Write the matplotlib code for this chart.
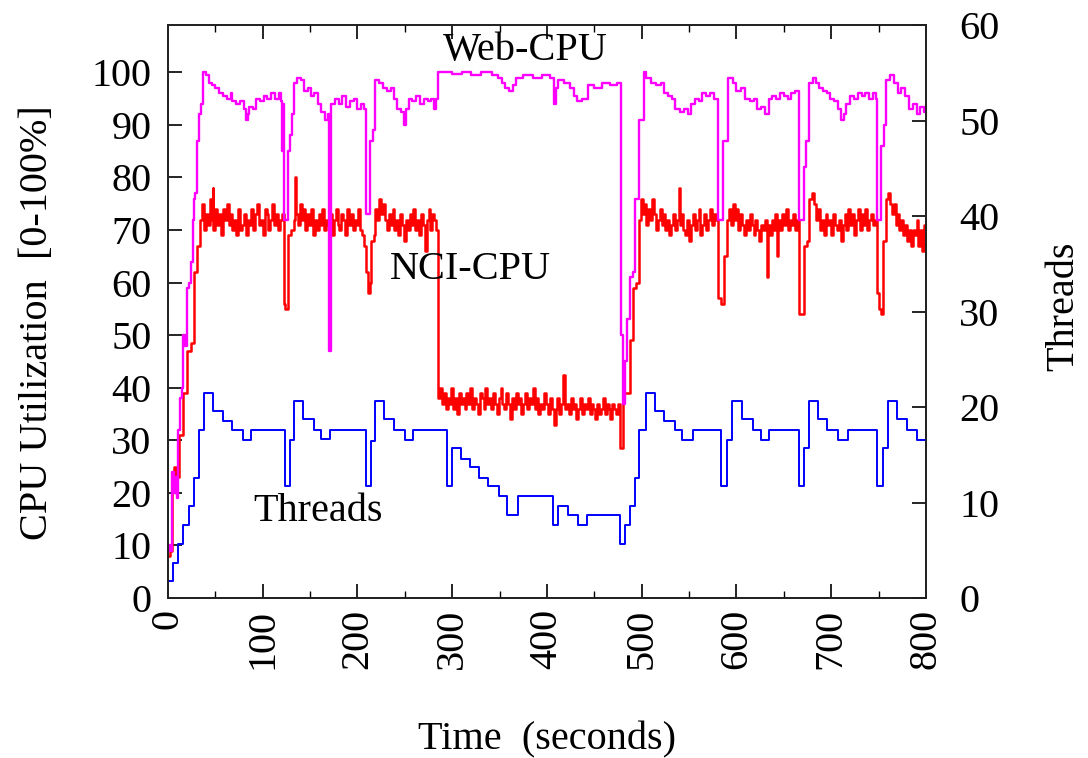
import matplotlib
matplotlib.use("Agg")
import matplotlib.pyplot as plt
from matplotlib.ticker import MultipleLocator

# (time in seconds, CPU utilisation %), drawn as steps
web_cpu = [
    (0, 10), (2, 9), (4, 24), (6, 20), (8, 23), (10, 19), (11, 32), (13, 38), (15, 40),
    (16, 50), (18, 48), (20, 59), (22, 60), (24, 64), (26, 72), (27, 76), (29, 77),
    (31, 87), (33, 92), (35, 94), (37, 100), (40, 99.5), (43, 98), (46, 97.5), (50, 97),
    (54, 96), (58, 95.5), (62, 95), (66, 96), (68, 94.5), (72, 94), (76, 94.5), (80, 93),
    (82, 91), (84, 92), (86, 93.5), (90, 93), (93, 95), (97, 94.5), (101, 95.5), (105, 95),
    (109, 96), (113, 95), (117, 96), (119, 94.5), (120, 85), (121, 94), (122, 72),
    (127, 85), (129, 88), (131, 92), (133, 98), (136, 99), (140, 98.5), (144, 96.5),
    (148, 97), (151, 95.5), (154, 96), (158, 94), (162, 92.5), (166, 91), (169, 92),
    (170, 47), (172, 94), (176, 95), (180, 94), (184, 95.5), (188, 93.5), (192, 94.5),
    (196, 95), (200, 93), (204, 94), (207, 93), (209, 73), (213, 87), (216, 89),
    (219, 98.5), (223, 98), (227, 97), (231, 96.5), (235, 97), (239, 95), (242, 93),
    (246, 92.5), (249, 90), (251, 93), (254, 95), (258, 94.5), (262, 95.5), (266, 94),
    (270, 95), (274, 94.5), (278, 95), (281, 93), (283, 95), (285, 100), (300, 99.7),
    (310, 100), (320, 99.5), (330, 100), (342, 99.5), (348, 99), (353, 98), (356, 97),
    (360, 96.5), (364, 97.5), (367, 99), (375, 99.5), (385, 99), (395, 99.5), (403, 99),
    (407, 94), (410, 97), (412, 98.5), (418, 98), (424, 97), (428, 95.5), (432, 94.5),
    (437, 95), (443, 97.5), (450, 97), (458, 98), (466, 97.5), (474, 98), (478, 50),
    (480, 37), (482, 45), (484, 53), (488, 61), (491, 62), (493, 76), (497, 91),
    (502, 100), (505, 99), (510, 98), (515, 97.5), (520, 98), (524, 96), (528, 95.5),
    (532, 95), (535, 93), (540, 92.5), (545, 93), (549, 92), (552, 94), (556, 95),
    (560, 94.5), (564, 96), (568, 95.5), (572, 96), (576, 95), (580, 72), (586, 87),
    (591, 99), (596, 98), (600, 96.5), (605, 97), (609, 95), (614, 94.5), (618, 95),
    (622, 93), (626, 93.5), (630, 92), (634, 95), (638, 95.5), (642, 95), (646, 96),
    (650, 95.5), (654, 95), (658, 96), (662, 96.5), (666, 72), (671, 82), (673, 87),
    (677, 98), (681, 99), (684, 98), (687, 97), (691, 96.5), (695, 96), (699, 95),
    (703, 94.5), (707, 93), (710, 91), (713, 92), (716, 94), (720, 95.5), (724, 95),
    (728, 96), (732, 95.5), (736, 96), (740, 95), (744, 96), (747, 95), (748, 72),
    (753, 86), (756, 90), (758, 98.5), (762, 99.5), (766, 98), (770, 96), (774, 97),
    (778, 95.5), (782, 93), (786, 94), (790, 92), (794, 93.5), (798, 92.5), (800, 93),
]

nci_cpu = [
    (0, 8), (2, 9), (4, 22), (6, 25), (8, 20), (10, 23), (12, 31), (16, 39), (20, 47),
    (24, 48.5), (27, 62), (31, 67), (34, 72), (36, 75), (38, 70), (40, 73), (42, 71),
    (44, 76), (46, 72), (47, 78), (48, 70), (50, 74), (52, 71), (54, 73), (56, 69),
    (58, 74), (60, 72), (62, 75), (64, 71), (66, 73), (68, 70), (70, 72), (72, 69),
    (74, 74), (76, 70), (78, 71), (80, 73), (82, 69), (84, 72), (86, 71), (88, 74),
    (90, 70), (92, 73), (94, 75), (96, 71), (98, 72), (100, 69), (102, 74), (104, 73),
    (106, 70), (108, 72), (110, 75), (112, 71), (114, 73), (116, 70), (118, 72),
    (120, 73), (122, 56), (124, 55), (127, 69), (130, 70), (133, 72), (134, 80),
    (135, 73), (137, 71), (139, 75), (141, 72), (143, 74), (145, 70), (147, 73),
    (149, 71), (151, 74), (153, 69), (155, 72), (157, 70), (159, 73), (161, 71),
    (163, 74), (165, 70), (167, 72), (169, 71), (171, 73), (173, 69), (175, 72),
    (177, 74), (179, 71), (181, 70), (183, 73), (185, 72), (187, 69), (189, 74),
    (191, 71), (193, 73), (195, 70), (197, 72), (199, 71), (201, 74), (203, 70),
    (205, 69), (207, 67), (209, 62), (211, 58), (213, 60), (214, 68), (217, 69),
    (219, 74), (221, 72), (223, 76), (225, 73), (227, 75), (229, 72), (231, 70),
    (233, 73), (235, 71), (237, 74), (239, 70), (241, 72), (243, 69), (245, 73),
    (247, 71), (249, 68), (251, 72), (253, 70), (255, 73), (257, 71), (259, 74),
    (261, 70), (263, 72), (265, 69), (267, 73), (269, 71), (271, 66), (273, 72),
    (275, 74), (277, 70), (279, 73), (281, 72), (283, 70), (285, 38), (287, 40),
    (289, 37), (291, 39), (293, 36), (295, 38), (297, 37), (299, 40), (301, 36),
    (303, 38), (305, 35), (307, 39), (309, 37), (311, 38), (313, 36), (315, 39),
    (317, 37), (319, 40), (321, 36), (323, 38), (325, 37), (327, 35), (329, 39),
    (331, 38), (333, 36), (335, 40), (337, 37), (339, 38), (341, 36), (343, 39),
    (345, 37), (347, 35), (349, 38), (351, 40), (353, 37), (355, 36), (357, 39),
    (359, 37), (361, 34), (363, 38), (365, 36), (367, 39), (369, 37), (371, 38),
    (373, 35), (375, 37), (377, 39), (379, 36), (381, 38), (383, 37), (385, 40),
    (387, 36), (389, 38), (391, 35), (393, 37), (395, 36), (397, 39), (399, 37),
    (401, 35), (403, 38), (405, 36), (407, 33), (409, 36), (411, 38), (413, 35),
    (415, 37), (417, 42.5), (419, 36), (421, 37), (423, 35), (425, 38), (427, 36),
    (429, 37), (431, 34), (433, 36), (435, 38), (437, 35), (439, 37), (441, 36),
    (443, 38), (445, 35), (447, 37), (449, 36), (451, 34), (453, 37), (455, 35),
    (457, 36), (459, 38), (461, 35), (463, 37), (465, 36), (467, 34), (469, 37),
    (471, 36), (473, 35), (475, 37), (477, 28.5), (480, 39), (488, 49), (491, 59),
    (494, 60), (497, 72), (499, 76), (501, 73), (503, 75), (505, 71), (507, 74),
    (509, 72), (511, 76), (513, 73), (515, 70), (517, 72), (519, 74), (521, 71),
    (523, 73), (525, 70), (527, 72), (529, 69), (531, 71), (533, 73), (535, 70),
    (537, 72), (539, 78), (540, 71), (542, 73), (544, 70), (546, 69), (548, 72),
    (550, 68), (552, 71), (554, 73), (556, 70), (558, 72), (560, 74), (562, 69),
    (564, 71), (566, 73), (568, 70), (570, 72), (572, 74), (574, 71), (576, 73),
    (578, 72), (580, 57), (584, 56), (587, 65), (590, 72), (592, 74), (594, 71),
    (596, 75), (598, 72), (600, 74), (602, 70), (604, 73), (606, 71), (608, 69),
    (610, 72), (612, 70), (614, 73), (616, 71), (618, 69), (620, 72), (622, 70),
    (624, 68), (626, 71), (628, 70), (630, 72), (632, 61), (633, 71), (635, 69),
    (637, 72), (639, 70), (641, 73), (643, 65), (644, 72), (646, 70), (648, 73),
    (650, 71), (652, 74), (654, 70), (656, 72), (658, 71), (660, 73), (662, 70),
    (664, 72), (666, 54), (671, 67), (674, 68), (677, 76), (680, 77), (682, 75),
    (684, 72), (686, 74), (688, 70), (690, 72), (692, 69), (694, 73), (696, 71),
    (698, 72), (700, 69), (702, 73), (704, 71), (706, 70), (708, 72), (710, 68),
    (712, 71), (714, 73), (716, 70), (718, 74), (720, 71), (722, 73), (724, 69),
    (726, 72), (728, 74), (730, 70), (732, 73), (734, 71), (736, 74), (738, 70),
    (740, 72), (742, 73), (744, 71), (746, 72), (748, 58), (750, 55), (753, 54),
    (755, 68), (758, 76), (760, 77), (762, 75), (764, 73), (766, 75), (768, 71),
    (770, 73), (772, 70), (774, 72), (776, 69), (778, 71), (780, 68), (782, 70),
    (784, 67), (786, 70), (788, 69), (790, 72), (792, 67), (794, 70), (796, 66),
    (798, 71), (800, 74),
]

# (time in seconds, number of threads) on the right axis
threads = [
    (0, 1.8), (5, 3.7), (11, 5.7), (16, 7.7), (22, 9.6), (27, 12.6), (33, 17.6),
    (38, 21.5), (47, 19.6), (58, 18.5), (68, 17.6), (79, 16.5), (88, 17.6), (124, 11.7),
    (129, 16.5), (133, 20.6), (143, 18.7), (154, 17.6), (162, 16.7), (171, 17.6),
    (209, 11.7), (214, 16.4), (219, 20.6), (228, 18.7), (239, 17.6), (250, 16.5),
    (259, 17.6), (294, 11.7), (300, 15.7), (309, 14.6), (319, 13.7), (328, 12.6),
    (338, 11.7), (349, 10.7), (358, 8.7), (369, 10.7), (406, 7.7), (412, 9.6),
    (422, 8.7), (433, 7.7), (442, 8.7), (477, 5.7), (482, 7.7), (488, 9.6), (493, 12.6),
    (497, 17.6), (504, 21.5), (514, 19.6), (524, 18.5), (535, 17.6), (543, 16.5),
    (554, 17.6), (584, 11.7), (590, 16.5), (595, 20.6), (606, 18.7), (617, 17.6),
    (626, 16.5), (634, 17.6), (666, 11.7), (671, 15.7), (677, 20.6), (686, 18.7),
    (696, 17.6), (707, 16.5), (718, 17.6), (748, 11.7), (755, 15.7), (760, 20.6),
    (769, 18.7), (780, 17.6), (790, 16.5), (800, 16.5),
]

x_ticks = [0, 100, 200, 300, 400, 500, 600, 700, 800]
cpu_ticks = [0, 10, 20, 30, 40, 50, 60, 70, 80, 90, 100]
thread_ticks = [0, 10, 20, 30, 40, 50, 60]

plt.rcParams['font.family'] = ['Liberation Serif', 'DejaVu Serif']
plt.rcParams['font.size'] = 29

fig = plt.figure(figsize=(10.88, 7.58), dpi=100)
ax = fig.add_axes([0.1544, 0.211, 0.6967, 0.756])
ax2 = ax.twinx()

web_t, web_v = zip(*web_cpu)
nci_t, nci_v = zip(*nci_cpu)
thr_t, thr_v = zip(*threads)

ax.plot(web_t, web_v, drawstyle='steps-post', color='#ff00ff', linewidth=1.7, zorder=3)
ax.plot(nci_t, nci_v, drawstyle='steps-post', color='#ff0000', linewidth=1.8, zorder=2)
ax2.plot(thr_t, thr_v, drawstyle='steps-post', color='#0000ff', linewidth=1.4)

ax.set_xlim(0, 800)
ax.set_ylim(0, 109)
ax2.set_ylim(0, 60)

ax.set_xticks(x_ticks)
ax.xaxis.set_minor_locator(MultipleLocator(50))
ax.set_xticklabels([str(v) for v in x_ticks], rotation=90)
ax.set_yticks(cpu_ticks)
ax2.set_yticks(thread_ticks)

ax.tick_params(axis='x', which='both', direction='in', top=True, pad=8)
ax.tick_params(axis='x', which='major', length=10, width=1.2)
ax.tick_params(axis='x', which='minor', length=5, width=1.0)
ax.tick_params(axis='y', direction='in', length=10, width=1.2, right=False, pad=12)
ax2.tick_params(axis='y', direction='in', length=10, width=1.2, pad=24)

for a in (ax, ax2):
    for s in a.spines.values():
        s.set_linewidth(1.3)
        s.set_color('#222222')

ax.set_xlabel('Time  (seconds)')
ax.xaxis.set_label_coords(0.5, -0.215)
ax.set_ylabel('CPU Utilization  [0-100%]')
ax.yaxis.set_label_coords(-0.148, 0.48)
ax2.set_ylabel('Threads')
ax2.yaxis.set_label_coords(1.158, 0.51)

ax.text(377, 104.2, 'Web-CPU', ha='center', va='center')
ax.text(319, 62.5, 'NCI-CPU', ha='center', va='center')
ax.text(158, 16.4, 'Threads', ha='center', va='center')

fig.savefig('out.png', dpi=100)
